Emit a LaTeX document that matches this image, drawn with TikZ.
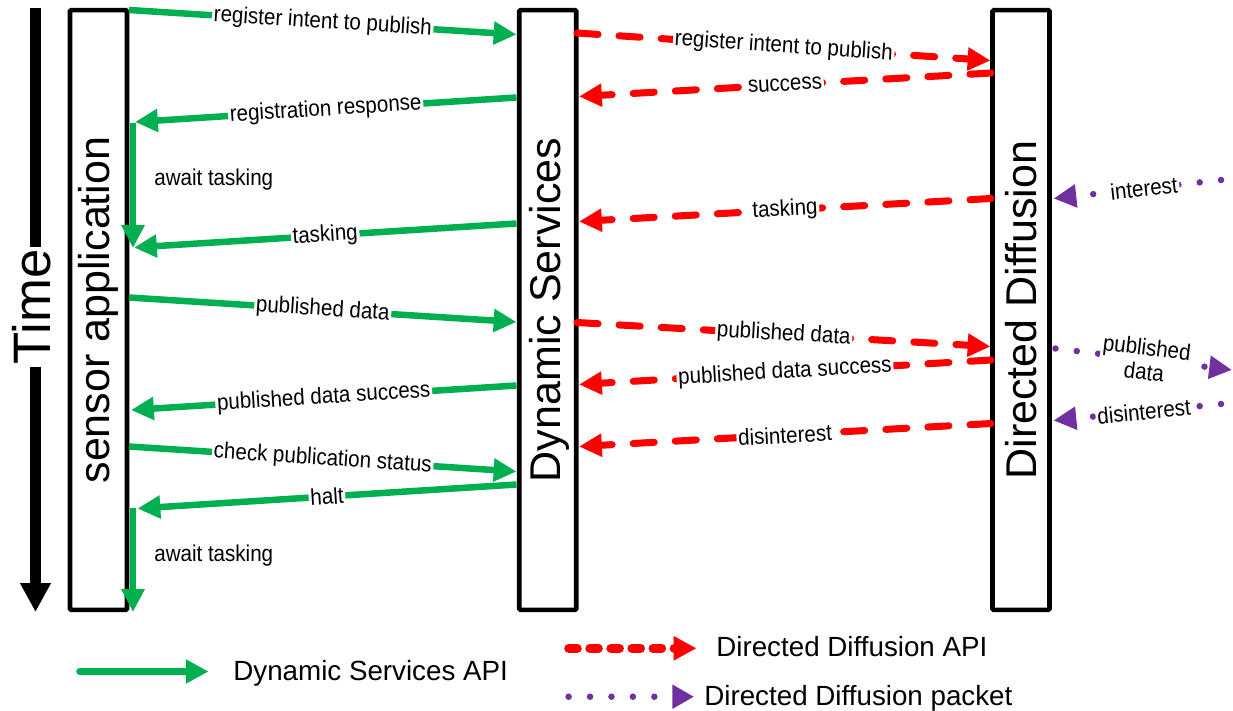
\documentclass[tikz,border=0pt]{standalone}
\usepackage{fontspec}
\setmainfont{Liberation Sans}
\newfontfamily\msgfont[FakeStretch=0.9]{Liberation Sans}
\usetikzlibrary{arrows.meta}
\definecolor{dsgreen}{RGB}{0,176,80}
\definecolor{ddred}{RGB}{255,0,0}
\definecolor{pkpurple}{RGB}{112,48,160}
\tikzset{
  lane/.style={draw, line width=2.6pt, inner sep=0pt, outer sep=0pt,
    minimum width=1.14cm, minimum height=12cm, rounded corners=0.8pt},
  lanetext/.style={rotate=90, inner sep=0pt, font=\fontsize{24.5}{24.5}\selectfont},
  timetext/.style={rotate=90, inner sep=1pt, font=\fontsize{30}{30}\selectfont},
  timeaxis/.style={line width=6pt, -{Triangle[length=16.5pt,width=16.5pt]}},
  head/.style={-{Triangle[length=13pt,width=12.5pt]}},
  ds/.style={draw=dsgreen, line width=3.7pt, head},
  dd/.style={draw=ddred, line width=4pt, line cap=round, dash pattern=on 12pt off 12pt, head},
  pk/.style={draw=pkpurple, line width=3.7pt, line cap=round, dash pattern=on 0pt off 12.2pt, head},
  msg/.style={sloped, fill=white, inner sep=1pt, text=black, font=\msgfont\fontsize{13}{14}\selectfont},
  note/.style={anchor=base west, inner sep=0pt, font=\msgfont\fontsize{13}{13}\selectfont},
  legendtext/.style={anchor=base west, inner sep=0pt, font=\fontsize{15.8}{15.8}\selectfont},
}
\begin{document}
\begin{tikzpicture}[x=0.02cm, y=-0.02cm]
\useasboundingbox (0,0) rectangle (1233,710);

% lifelines
\node[lane] (sa) at (98.5,310) {};
\node[lane] (ds) at (547.75,310) {};
\node[lane] (dd) at (1021,310) {};
\node[lanetext] (saT) at (98.5,310) {sensor application};
\node[lanetext] (dsT) at (549,310) {Dynamic Services};
\node[lanetext] (ddT) at (1021,310) {Directed Diffusion};

% time axis
\coordinate (t0) at (35.5,7.5);
\coordinate (t1) at (35.5,612);
\node[timetext] (time) at (31.5,307) {Time};
\draw[timeaxis] (t0) -- (t0 |- time.east) (t0 |- time.west) -- (t1);

% sensor application <-> Dynamic Services
\coordinate (g1a) at (129,10);     \coordinate (g1b) at (516.5,34.5);
\coordinate (g2a) at (516.5,97.5); \coordinate (g2b) at (135,122);
\coordinate (w1a) at (133,123);    \coordinate (w1b) at (133,248);
\coordinate (g3a) at (516.5,223.5);\coordinate (g3b) at (134,247.5);
\coordinate (g4a) at (129,297.5);  \coordinate (g4b) at (516.5,322);
\coordinate (g5a) at (516.5,385.5);\coordinate (g5b) at (131,410);
\coordinate (g6a) at (129,446.5);  \coordinate (g6b) at (516.5,471.5);
\coordinate (g7a) at (516.5,484.5);\coordinate (g7b) at (137.5,508.5);
\coordinate (w2a) at (133,508);    \coordinate (w2b) at (133,612);

\draw[ds] (g1a) -- node[msg] {register intent to publish} (g1b);
\draw[ds] (g2a) -- node[msg] {registration response} (g2b);
\draw[ds] (w1a) -- (w1b);
\node[note] (n1) at (154,185) {await tasking};
\draw[ds] (g3a) -- node[msg] {tasking} (g3b);
\draw[ds] (g4a) -- node[msg] {published data} (g4b);
\draw[ds] (g5a) -- node[msg] {published data success} (g5b);
\draw[ds] (g6a) -- node[msg] {check publication status} (g6b);
\draw[ds] (g7a) -- node[msg] {halt} (g7b);
\draw[ds] (w2a) -- (w2b);
\node[note] (n2) at (154,561) {await tasking};

% Dynamic Services <-> Directed Diffusion
\coordinate (r1a) at (577,33);     \coordinate (r1b) at (990.5,60.5);
\coordinate (r2a) at (991,73);     \coordinate (r2b) at (579,96.5);
\coordinate (r3a) at (991,198.5);  \coordinate (r3b) at (579,221.5);
\coordinate (r4a) at (577,322.5);  \coordinate (r4b) at (990.5,346.5);
\coordinate (r5a) at (991,360);    \coordinate (r5b) at (579,384.5);
\coordinate (r6a) at (991,423.5);  \coordinate (r6b) at (579,446.5);

\draw[dd] (r1a) -- node[msg] {register intent to publish} (r1b);
\draw[dd] (r2a) -- node[msg] {success} (r2b);
\draw[dd] (r3a) -- node[msg] {tasking} (r3b);
\draw[dd] (r4a) -- node[msg] {published data} (r4b);
\draw[dd] (r5a) -- node[msg] {published data success} (r5b);
\draw[dd] (r6a) -- node[msg] {disinterest} (r6b);

% network packets
\coordinate (p1a) at (1221,180);   \coordinate (p1b) at (1053.5,198.5);
\coordinate (p2a) at (1055.5,348.5); \coordinate (p2b) at (1232,370);
\coordinate (p3a) at (1221,404);   \coordinate (p3b) at (1053.5,420.5);

\draw[pk] (p1a) -- node[msg, pos=0.46] {interest} (p1b);
\draw[pk] (p2a) -- node[msg, pos=0.51, align=center] {published\\data} (p2b);
\draw[pk] (p3a) -- node[msg, pos=0.46] {disinterest} (p3b);

% legend
\coordinate (l1a) at (80,671.5);   \coordinate (l1b) at (208.6,671.5);
\coordinate (l2a) at (568.6,648.3);\coordinate (l2b) at (696.5,648.3);
\coordinate (l3a) at (568.6,696.7);\coordinate (l3b) at (694,696.7);
\draw[ds, line width=4.3pt, line cap=round, -{Triangle[length=13pt,width=13pt]}] (l1a) -- (l1b);
\node[legendtext] (k1) at (233,680) {Dynamic Services API};
\draw[dd, line width=5pt, dash pattern=on 5pt off 7pt, -{Triangle[length=13pt,width=13pt]}] (l2a) -- (l2b);
\node[legendtext] (k2) at (716,656.7) {Directed Diffusion API};
\draw[pk, -{Triangle[length=12.3pt,width=13pt]}] (l3a) -- (l3b);
\node[legendtext] (k3) at (704,705) {Directed Diffusion packet};
\end{tikzpicture}
\end{document}
